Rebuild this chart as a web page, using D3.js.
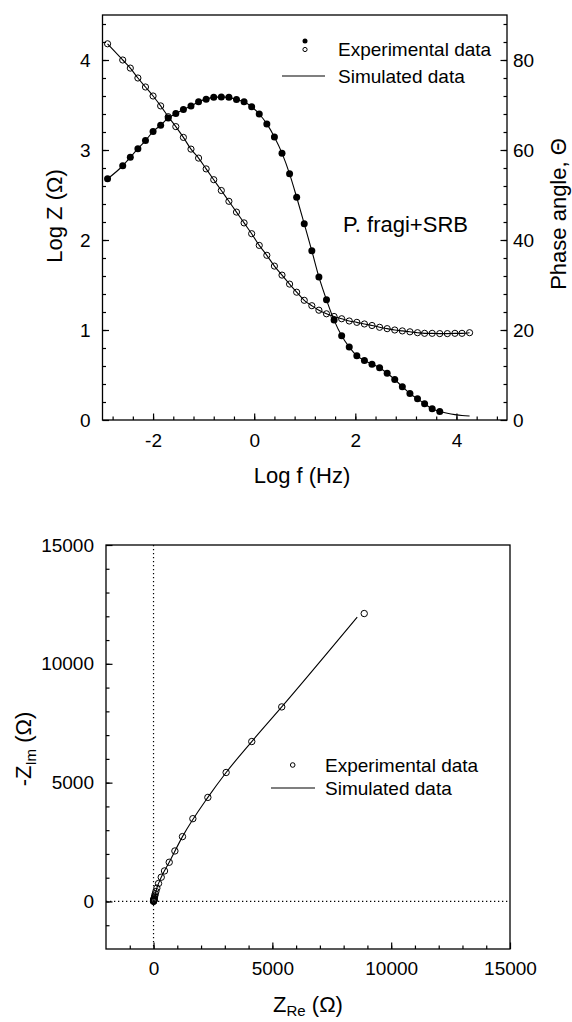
<!DOCTYPE html>
<html>
<head>
<meta charset="utf-8">
<script src="https://cdn.jsdelivr.net/npm/d3@7"></script>
<style>
  body { margin: 0; background: #fff; }
  svg { display: block; font-family: "Liberation Sans", Arial, Helvetica, sans-serif; }
  .axis text { font-size: 19px; fill: #000; }
  .axis line { stroke: #000; stroke-width: 1.2; }
  .axis .domain { display: none; }
</style>
</head>
<body>
<div id="chart"></div>
<script>
// ---- data ----
// Bode plot: log frequency, log |Z| (open circles) and phase angle (filled circles)
const logF = [-2.9, -2.6, -2.45, -2.3, -2.15, -2.0, -1.85, -1.7, -1.55, -1.4,
  -1.25, -1.1, -0.95, -0.8, -0.65, -0.5, -0.35, -0.2, -0.05, 0.1,
  0.25, 0.4, 0.55, 0.7, 0.84, 0.99, 1.14, 1.28, 1.43, 1.58,
  1.73, 1.88, 2.03, 2.18, 2.33, 2.48, 2.63, 2.78, 2.93, 3.08,
  3.23, 3.37, 3.52, 3.67, 3.82, 3.97, 4.11, 4.26];
const logZ = [4.18, 4.00, 3.91, 3.80, 3.70, 3.60, 3.49, 3.37, 3.26, 3.14,
  3.01, 2.91, 2.79, 2.67, 2.55, 2.43, 2.31, 2.19, 2.07, 1.94,
  1.83, 1.71, 1.61, 1.51, 1.42, 1.33, 1.27, 1.22, 1.18, 1.15,
  1.125, 1.10, 1.085, 1.067, 1.05, 1.03, 1.015, 1.00, 0.99, 0.98,
  0.97, 0.963, 0.963, 0.96, 0.96, 0.963, 0.963, 0.97];
const phase = [53.6, 56.5, 58.4, 60.3, 62.1, 64.1, 65.5, 67.1, 68.1, 69.0,
  69.8, 70.7, 71.3, 71.7, 71.8, 71.7, 71.2, 70.7, 69.6, 68.0,
  65.8, 62.9, 59.3, 54.7, 49.5, 43.6, 37.6, 31.8, 26.7, 22.2,
  18.7, 16.2, 14.3, 13.2, 12.4, 11.6, 10.4, 9.0, 7.4, 5.9,
  4.7, 3.6, 2.5, 1.9];
// simulated phase keeps going past the last measured point
const simPhaseTail = [1.5, 1.2, 1.0, 0.9];

// Nyquist plot: Z_re, -Z_im (ohm)
const zRe = [8866, 5395, 4134, 3055, 2286, 1655, 1218, 899, 660, 462,
  324, 210, 140, 100, 72, 52, 38, 28, 20, 15, 11, 8, 6, 4.5, 3.5, 2.7, 2];
const zIm = [12116, 8187, 6730, 5428, 4379, 3484, 2729, 2125, 1650, 1285,
  1020, 756, 560, 420, 320, 240, 180, 135, 100, 75, 55, 40, 30, 22, 16, 12, 9];
const simRe = [2, 20, 72, 140, 324, 660, 1218, 2286, 3055, 4134, 5395, 8571];
const simIm = [9, 100, 320, 560, 1020, 1650, 2729, 4379, 5428, 6730, 8187, 11965];

// tick labels
const bodeXTicks = [-2, 0, 2, 4];
const bodeZTicks = [0, 1, 2, 3, 4];
const bodePhTicks = [0, 20, 40, 60, 80];
const nyqTicks = [0, 5000, 10000, 15000];
const legendLabels = ["Experimental data", "Simulated data"];

// ---- page ----
const width = 572, height = 1022;
const svg = d3.select("#chart").append("svg")
  .attr("width", width)
  .attr("height", height);
svg.append("rect").attr("width", width).attr("height", height).attr("fill", "#fff");

const fmt = d => String(d);

// ============ top: Bode plot ============
const xB = d3.scaleLinear().domain([-3, 5]).range([102.5, 507]);
const yZ = d3.scaleLinear().domain([0, 4.5]).range([420, 15]);
const yP = d3.scaleLinear().domain([0, 90]).range([420, 15]);

const gTop = svg.append("g");

// minor ticks
gTop.append("g").attr("class", "axis").attr("transform", `translate(0,${yZ(0)})`)
  .call(d3.axisBottom(xB).tickValues(d3.range(-2.8, 4.9, 0.4)).tickSize(-3.5).tickFormat(""));
gTop.append("g").attr("class", "axis").attr("transform", `translate(${xB(-3)},0)`)
  .call(d3.axisLeft(yZ).tickValues(d3.range(0.2, 4.5, 0.2)).tickSize(-3.5).tickFormat(""));
gTop.append("g").attr("class", "axis").attr("transform", `translate(${xB(5)},0)`)
  .call(d3.axisRight(yP).tickValues(d3.range(4, 90, 4)).tickSize(-3.5).tickFormat(""));

// major ticks
gTop.append("g").attr("class", "axis").attr("transform", `translate(0,${yZ(0)})`)
  .call(d3.axisBottom(xB).tickValues(bodeXTicks).tickSize(-6.5).tickPadding(13.5).tickFormat(fmt));
gTop.append("g").attr("class", "axis").attr("transform", `translate(${xB(-3)},0)`)
  .call(d3.axisLeft(yZ).tickValues(bodeZTicks).tickSize(-6.5).tickPadding(12).tickFormat(fmt));
gTop.append("g").attr("class", "axis").attr("transform", `translate(${xB(5)},0)`)
  .call(d3.axisRight(yP).tickValues(bodePhTicks).tickSize(-6.5).tickPadding(6).tickFormat(fmt));

gTop.append("rect")
  .attr("x", xB(-3)).attr("y", yZ(4.5))
  .attr("width", xB(5) - xB(-3)).attr("height", yZ(0) - yZ(4.5))
  .attr("fill", "none").attr("stroke", "#000").attr("stroke-width", 1.3);

const zPts = logF.map((f, i) => ({ f, v: logZ[i] }));
const pPts = phase.map((v, i) => ({ f: logF[i], v }));
const pSim = pPts.concat(simPhaseTail.map((v, i) => ({ f: logF[phase.length + i], v })));

gTop.append("path")
  .attr("d", d3.line().x(d => xB(d.f)).y(d => yZ(d.v)).curve(d3.curveMonotoneX)(zPts))
  .attr("fill", "none").attr("stroke", "#000").attr("stroke-width", 1.1);
gTop.append("path")
  .attr("d", d3.line().x(d => xB(d.f)).y(d => yP(d.v)).curve(d3.curveMonotoneX)(pSim))
  .attr("fill", "none").attr("stroke", "#000").attr("stroke-width", 1.1);

gTop.selectAll("circle.z").data(zPts).join("circle")
  .attr("class", "z")
  .attr("cx", d => xB(d.f)).attr("cy", d => yZ(d.v)).attr("r", 3.1)
  .attr("fill", "none").attr("stroke", "#000").attr("stroke-width", 1);
gTop.selectAll("circle.p").data(pPts).join("circle")
  .attr("class", "p")
  .attr("cx", d => xB(d.f)).attr("cy", d => yP(d.v)).attr("r", 3.5)
  .attr("fill", "#000");

// legend
gTop.append("circle").attr("cx", 305).attr("cy", 41).attr("r", 2.5).attr("fill", "#000");
gTop.append("circle").attr("cx", 305).attr("cy", 49.5).attr("r", 2.1)
  .attr("fill", "none").attr("stroke", "#000").attr("stroke-width", 1);
gTop.append("line").attr("x1", 282).attr("x2", 325).attr("y1", 76).attr("y2", 76)
  .attr("stroke", "#000").attr("stroke-width", 1.1);
gTop.append("text").attr("x", 338).attr("y", 56).attr("font-size", 19).text(legendLabels[0]);
gTop.append("text").attr("x", 338).attr("y", 82.7).attr("font-size", 19).text(legendLabels[1]);

gTop.append("text").attr("x", 343).attr("y", 231.5).attr("font-size", 22).text("P. fragi+SRB");

// axis titles
gTop.append("text").attr("x", 302).attr("y", 483).attr("text-anchor", "middle")
  .attr("font-size", 22).text("Log f (Hz)");
gTop.append("text").attr("transform", "translate(62,216) rotate(-90)")
  .attr("text-anchor", "middle").attr("font-size", 22).text("Log Z (Ω)");
gTop.append("text").attr("transform", "translate(566,214) rotate(-90)")
  .attr("text-anchor", "middle").attr("font-size", 22).text("Phase angle, Θ");

// ============ bottom: Nyquist plot ============
const xN = d3.scaleLinear().domain([-2000, 15000]).range([106, 510]);
const yN = d3.scaleLinear().domain([-2000, 15000]).range([949, 545]);

const gBot = svg.append("g");

gBot.append("g").attr("class", "axis").attr("transform", `translate(0,${yN(-2000)})`)
  .call(d3.axisBottom(xN).tickValues(d3.range(-1000, 15000, 1000)).tickSize(-3.5).tickFormat(""));
gBot.append("g").attr("class", "axis").attr("transform", `translate(${xN(-2000)},0)`)
  .call(d3.axisLeft(yN).tickValues(d3.range(-1000, 15000, 1000)).tickSize(-3.5).tickFormat(""));
gBot.append("g").attr("class", "axis").attr("transform", `translate(0,${yN(-2000)})`)
  .call(d3.axisBottom(xN).tickValues(nyqTicks).tickSize(-6.5).tickPadding(13).tickFormat(fmt));
gBot.append("g").attr("class", "axis").attr("transform", `translate(${xN(-2000)},0)`)
  .call(d3.axisLeft(yN).tickValues(nyqTicks).tickSize(-6.5).tickPadding(12).tickFormat(fmt));

gBot.append("rect")
  .attr("x", xN(-2000)).attr("y", yN(15000))
  .attr("width", xN(15000) - xN(-2000)).attr("height", yN(-2000) - yN(15000))
  .attr("fill", "none").attr("stroke", "#000").attr("stroke-width", 1.3);

// zero reference lines
gBot.append("line").attr("x1", xN(0)).attr("x2", xN(0)).attr("y1", yN(15000)).attr("y2", yN(-2000))
  .attr("stroke", "#000").attr("stroke-width", 1.2).attr("stroke-dasharray", "1.3,2.7");
gBot.append("line").attr("x1", xN(-2000)).attr("x2", xN(15000)).attr("y1", yN(0)).attr("y2", yN(0))
  .attr("stroke", "#000").attr("stroke-width", 1.2).attr("stroke-dasharray", "1.3,2.7");

const simPts = simRe.map((r, i) => ({ r, im: simIm[i] }));
gBot.append("path")
  .attr("d", d3.line().x(d => xN(d.r)).y(d => yN(d.im)).curve(d3.curveMonotoneX)(simPts))
  .attr("fill", "none").attr("stroke", "#000").attr("stroke-width", 1.1);

const nyqPts = zRe.map((r, i) => ({ r, im: zIm[i] }));
gBot.selectAll("circle.n").data(nyqPts).join("circle")
  .attr("class", "n")
  .attr("cx", d => xN(d.r)).attr("cy", d => yN(d.im)).attr("r", 3.2)
  .attr("fill", "none").attr("stroke", "#000").attr("stroke-width", 1);

// legend
gBot.append("circle").attr("cx", 292.7).attr("cy", 765).attr("r", 2.3)
  .attr("fill", "none").attr("stroke", "#000").attr("stroke-width", 1);
gBot.append("line").attr("x1", 271).attr("x2", 315).attr("y1", 788).attr("y2", 788)
  .attr("stroke", "#000").attr("stroke-width", 1.1);
gBot.append("text").attr("x", 325).attr("y", 771.7).attr("font-size", 19).text(legendLabels[0]);
gBot.append("text").attr("x", 325).attr("y", 795).attr("font-size", 19).text(legendLabels[1]);

// axis titles with subscripts
const xt = gBot.append("text").attr("x", 308).attr("y", 1012).attr("text-anchor", "middle")
  .attr("font-size", 22);
xt.append("tspan").text("Z");
xt.append("tspan").attr("font-size", 15).attr("dy", 4).text("Re");
xt.append("tspan").attr("dy", -4).text(" (Ω)");

const yt = gBot.append("text").attr("transform", "translate(31,749) rotate(-90)")
  .attr("text-anchor", "middle").attr("font-size", 22);
yt.append("tspan").text("-Z");
yt.append("tspan").attr("font-size", 15).attr("dy", 5).text("Im");
yt.append("tspan").attr("dy", -5).text(" (Ω)");
</script>
</body>
</html>
